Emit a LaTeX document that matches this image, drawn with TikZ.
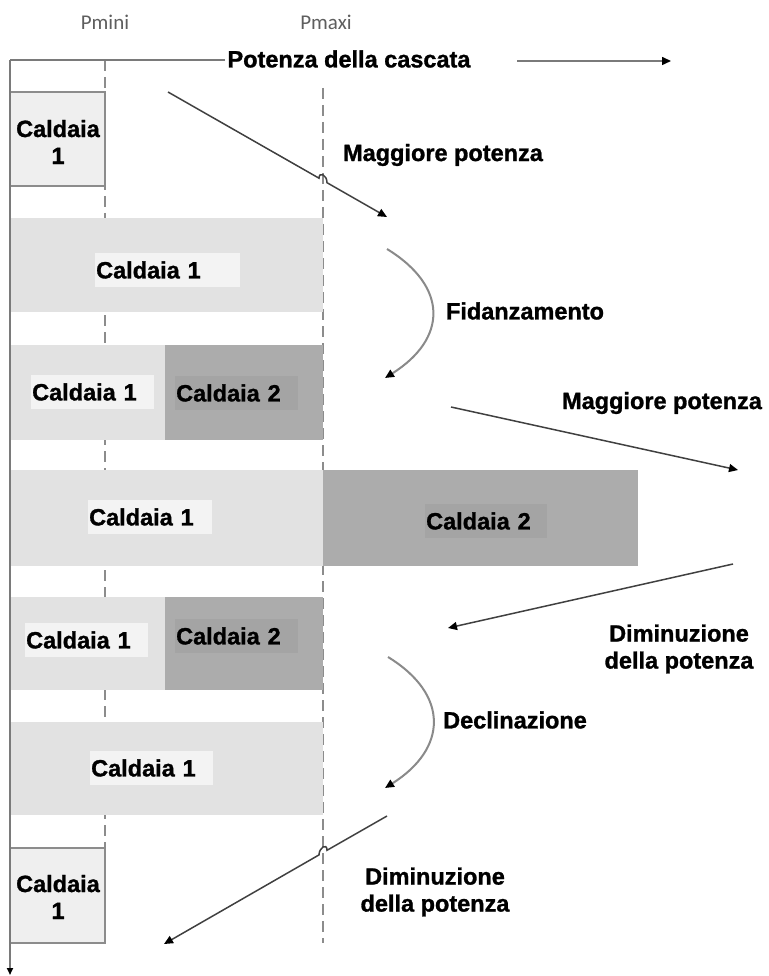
\documentclass[tikz,border=0pt]{standalone}
\usepackage{fontspec}
\setmainfont{Liberation Sans}[BoldFont={Liberation Sans Bold}]
\newfontfamily\labfont{Liberation Sans Bold}[FakeBold=1.2]
\newfontfamily\calfont{Carlito}
\usetikzlibrary{arrows.meta}

\definecolor{rowlight}{HTML}{E2E2E2}
\definecolor{rowdark}{HTML}{ACACAC}
\definecolor{boxfill}{HTML}{EFEFEF}
\definecolor{boxline}{HTML}{8C8C8C}
\definecolor{lablight}{HTML}{F3F3F3}
\definecolor{labdark}{HTML}{A4A4A4}
\definecolor{axisgray}{HTML}{7A7A7A}
\definecolor{dashgray}{HTML}{8C8C8C}
\definecolor{conngray}{HTML}{404040}
\definecolor{curvegray}{HTML}{8A8A8A}
\definecolor{ticktext}{HTML}{5E5E5E}

\begin{document}
\begin{tikzpicture}[x=1pt,y=-1pt,
  bigtext/.style={font=\labfont\fontsize{23.5}{27}\selectfont, text=black},
  lab/.style={bigtext, inner xsep=1pt, inner ysep=0pt, minimum height=34pt,
    anchor=west, align=left},
  labL/.style={lab, fill=lablight},
  labD/.style={lab, fill=labdark},
  boxtext/.style={bigtext, align=center, inner sep=0pt},
  limit/.style={draw=dashgray, line width=2.8pt, dash pattern=on 11pt off 6pt},
  axisline/.style={draw=axisgray, line width=2pt},
  conn/.style={draw=conngray, line width=1.5pt,
    -{Triangle[length=9pt,width=8pt,color=black]}},
  curved/.style={draw=curvegray, line width=2pt,
    -{Triangle[length=9pt,width=8pt,color=black]}},
  tick/.style={font=\calfont\fontsize{21}{23}\selectfont, text=ticktext},
]
\useasboundingbox (0,0) rectangle (768,976);

% limit markers
\node[tick] (pmin) at (105,22) {Pmini};
\node[tick] (pmax) at (326,22) {Pmaxi};
\coordinate (pminTop) at (105,60);
\coordinate (pminBot) at (105,848);
\coordinate (pmaxTop) at (323,88);
\coordinate (pmaxBot) at (323,943);
\draw[limit] (pminTop) -- (pminBot);
\draw[limit] (pmaxTop) -- (pmaxBot);

% power bars, one row per step
\filldraw[fill=boxfill, draw=boxline, line width=1.2pt] (10,92) rectangle (105,186);
\fill[rowlight] (10,218) rectangle (323,312);
\fill[rowlight] (10,345) rectangle (165,440);
\fill[rowdark]  (165,345) rectangle (323,440);
\fill[rowlight] (10,470) rectangle (323,566);
\fill[rowdark]  (323,470) rectangle (638,566);
\fill[rowlight] (10,597) rectangle (165,690);
\fill[rowdark]  (165,597) rectangle (323,690);
\fill[rowlight] (10,722) rectangle (323,815);
\filldraw[fill=boxfill, draw=boxline, line width=1.2pt] (10,848) rectangle (105,943);

% axes
\coordinate (origin) at (10,60);
\coordinate (hEnd) at (225,60);
\coordinate (vEnd) at (10,975);
\draw[axisline] (hEnd) -- (origin);
\draw[axisline, -{Triangle[length=7pt,width=6pt,color=black]}] (origin) -- (vEnd);
\node[bigtext] (title) at (349,59) {Potenza della cascata};
\coordinate (tA) at (517,61);
\coordinate (tB) at (671,61);
\draw[conn, draw=axisgray] (tA) -- (tB);

% labels
\node[boxtext] (c1a) at (58,142) {Caldaia\\1};
\node[labL, text width=143pt] (c2a) at (95,270) {Caldaia 1};
\node[labL, text width=121pt] (c3a) at (31,392) {Caldaia 1};
\node[labD, text width=121pt] (c3b) at (175,393) {Caldaia 2};
\node[labL, text width=122pt] (c4a) at (88,517) {Caldaia 1};
\node[labD, text width=120pt] (c4b) at (425,521) {Caldaia 2};
\node[labL, text width=121pt] (c5a) at (25,640) {Caldaia 1};
\node[labD, text width=121pt] (c5b) at (175,636) {Caldaia 2};
\node[labL, text width=121pt] (c6a) at (90,768) {Caldaia 1};
\node[boxtext] (c7a) at (58,897) {Caldaia\\1};

% step transitions
\node[bigtext] (up1) at (443,155) {Maggiore potenza};
\node[bigtext] (fid) at (525,311) {Fidanzamento};
\node[bigtext] (up2) at (662,403) {Maggiore potenza};
\node[bigtext, align=center, inner sep=0pt] (dn1) at (679,649) {Diminuzione\\della potenza};
\node[bigtext] (dec) at (515,720) {Declinazione};
\node[bigtext, align=center, inner sep=0pt] (dn2) at (435,892) {Diminuzione\\della potenza};

\coordinate (u1s) at (168,92);
\coordinate (u1a) at (319,178.2);
\coordinate (u1b) at (327,182.7);
\coordinate (u1e) at (387,217);
\draw[conn] (u1s) -- (u1a) .. controls +(0,-7) and +(0,-8) .. (u1b) -- (u1e);

\coordinate (f1s) at (387,249);
\coordinate (f1e) at (385,378);
\draw[curved] (f1s) .. controls (449,287) and (447,339) .. (f1e);

\coordinate (u2s) at (451,407);
\coordinate (u2e) at (738,470);
\draw[conn] (u2s) -- (u2e);

\coordinate (d1s) at (733,564);
\coordinate (d1e) at (448,628);
\draw[conn] (d1s) -- (d1e);

\coordinate (k1s) at (388,657);
\coordinate (k1e) at (385,788);
\draw[curved] (k1s) .. controls (450,695) and (447,749) .. (k1e);

\coordinate (d2s) at (387,816);
\coordinate (d2a) at (327,850.3);
\coordinate (d2b) at (319,854.9);
\coordinate (d2e) at (164,944);
\draw[conn] (d2s) -- (d2a) .. controls +(0,-8) and +(0,-7) .. (d2b) -- (d2e);
\end{tikzpicture}
\end{document}
